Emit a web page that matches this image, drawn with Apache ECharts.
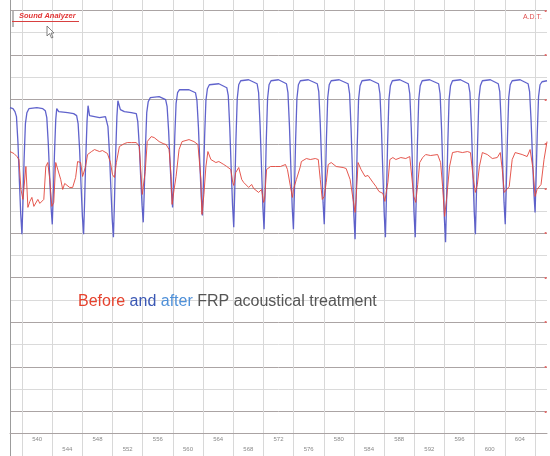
<!DOCTYPE html>
<html>
<head>
<meta charset="utf-8">
<script src="https://cdn.jsdelivr.net/npm/echarts@6/dist/echarts.min.js"></script>
<style>
html,body{margin:0;padding:0;background:#fff;}
#chart{width:550px;height:456px;}
</style>
</head>
<body>
<div id="chart"></div>
<script>
// x: sample index, y: level (arbitrary analyzer units)
const blueTrace = [
[0,327],[3,326],[5,323],[6.5,318],[8,292],[9.5,252],[10.8,220],[12,200],
[13,231],[14.2,276],[15.5,311],[17,322],[19,326],[27,327],[33,326],
[35.5,324],[37,317],[38.5,291],[40,256],[41.3,227],[42.5,210],
[43.5,239],[44.7,280],[46,315],[47,326],[49,323],[51,322],[58,322],[64,321],
[67,319],[68.5,311],[70,285],[71.5,248],[72.8,218],[74,200],
[75,232],[76.2,277],[77.5,314],[78.5,329],[80,319],[82,317],[90,317],[96,318],
[97,316],[98.5,308],[100,282],[101.5,245],[102.8,215],[104,197],
[105,231],[106.2,279],[107.5,318],[108.5,334],[111,325],[115,323],[122,322],[127,321],
[128.5,313],[130,289],[131.5,256],[132.8,229],[134,212],
[135,243],[136.2,287],[137.5,322],[139,333],[141,337],[150,338],
[156.5,335],[158,328],[159.5,304],[161,271],[162.3,244],[163.5,227],
[164.5,257],[165.7,298],[167,331],[168.5,342],[170.5,345],[180,345],
[186.5,342],[188,334],[189.5,307],[191,269],[192.3,238],[193.5,219],
[194.5,252],[195.7,298],[197,334],[198.5,346],[200.5,350],[210,351],
[218,347],[219.5,339],[221,307],[222.5,264],[223.8,229],[225,207],
[226,244],[227.2,295],[228.5,336],[230,350],[232,354],[240,355],
[248.5,351],[250,342],[251.5,309],[253,265],[254.3,227],[255.5,205],
[256.5,242],[257.7,294],[259,336],[260.5,350],[262.5,354],[270,355],
[278,351],[279.5,342],[281,309],[282.5,265],[283.8,227],[285,205],
[286,242],[287.2,294],[288.5,336],[290,350],[292,354],[300,355],
[309,351],[310.5,343],[312,311],[313.5,268],[314.8,232],[316,210],
[317,246],[318.2,296],[319.5,337],[321,350],[323,354],[331,355],
[340,351],[341.5,341],[343,306],[344.5,259],[345.8,219],[347,195],
[348,235],[349.2,290],[350.5,335],[352,349],[354,354],[362,355],
[370.5,351],[372,341],[373.5,307],[375,260],[376.3,221],[377.5,197],
[378.5,236],[379.7,291],[381,335],[382.5,349],[384.5,354],[392,355],
[400.5,351],[402,341],[403.5,307],[405,260],[406.3,221],[407.5,197],
[408.5,236],[409.7,291],[411,335],[412.5,349],[414.5,354],[422,355],
[431,351],[432.5,341],[434,305],[435.5,257],[436.8,216],[438,192],
[439,233],[440.2,289],[441.5,335],[443,349],[445,354],[453,355],
[461,351],[462.5,342],[464,308],[465.5,262],[466.8,223],[468,200],
[469,239],[470.2,292],[471.5,336],[473,349],[475,354],[483,355],
[491,351],[492.5,343],[494,311],[495.5,268],[496.8,232],[498,210],
[499,246],[500.2,296],[501.5,337],[503,350],[505,354],[513,355],
[521,351],[522.5,343],[524,314],[525.5,275],[526.8,242],[528,222],
[529,255],[530.2,301],[531.5,338],[533,350],[535,353],[540,354]
];

const redTrace = [
[0,283],[4,281],[7,278],[9,275],[11,245],[13,235],[16,268],[18,227],[20,233],[22,237],
[24,228],[25,230],[28,235],[30,231],[32,229],[34,235],[36,268],[38,272],[40,255],[42,228],
[44,232],[46,272],[48,270],[51,255],[53,245],[55,251],[57,250],[60,247],[63,247],[66,257],
[68,273],[71,272],[73,258],[76,268],[78,280],[82,283],[85,285],[87,284],[90,283],[93,284],
[98,281],[101,272],[103,260],[105,257],[107,272],[110,288],[115,291],[118,292],[122,292],
[127,292],[130,288],[133,240],[134,238],[136,263],[138,293],[142,298],[145,297],[150,293],
[154,291],[157,290],[160,285],[162,258],[163,230],[165,245],[167,258],[170,285],[173,293],
[180,295],[185,293],[189,290],[192,255],[193,220],[195,240],[197,268],[199,283],[202,275],
[204,275],[207,272],[210,273],[212,272],[215,270],[218,268],[222,265],[224,252],[225,249],
[227,262],[230,267],[233,255],[235,252],[237,250],[240,247],[243,250],[245,246],[247,245],
[250,242],[253,245],[255,232],[256,235],[258,265],[262,268],[267,268],[272,268],[277,270],
[279,265],[282,248],[284,237],[285,245],[288,255],[292,268],[293,273],[298,276],[302,275],
[307,276],[310,275],[312,255],[314,235],[316,238],[318,252],[320,270],[323,272],[328,268],
[335,267],[338,266],[342,255],[345,235],[347,222],[348,235],[350,272],[353,265],[357,258],
[360,259],[362,258],[365,252],[368,248],[371,243],[373,242],[375,241],[377,233],[378,240],
[380,252],[382,275],[385,277],[388,275],[393,277],[398,276],[402,278],[403,268],[406,238],
[408,232],[410,250],[412,272],[415,277],[418,280],[423,279],[430,280],[433,272],[435,248],
[437,218],[439,235],[442,268],[445,282],[450,283],[455,282],[460,283],[463,282],[466,255],
[468,242],[470,250],[472,268],[475,282],[480,280],[485,276],[490,277],[493,282],[495,265],
[497,242],[499,243],[502,248],[505,275],[508,282],[515,280],[520,278],[523,285],[526,265],
[528,238],[530,245],[534,250],[537,275],[540,293]
];

const xTickLabels = ['540','544','548','552','556','560','564','568','572','576','580','584','588','592','596','600','604','608'];

const captionParts = ['Before', 'and', 'after', 'FRP acoustical treatment'];

const chart = echarts.init(document.getElementById('chart'), null, {renderer: 'canvas'});

const T = 'rgba(0,0,0,0)';
const vColors = [T, T, T, T, '#d8d8d8', T, T, T, T, T];

const option = {
  animation: false,
  backgroundColor: '#ffffff',
  grid: {left: 10, right: 0, top: 0, bottom: -1.35},
  xAxis: [
    {type: 'value', min: 0, max: 540, show: false},
    {
      type: 'value', min: -0.4, max: 17.4, interval: 0.1, position: 'bottom', offset: -22.35,
      axisLine: {show: true, onZero: false, lineStyle: {color: '#aaa3a3', width: 1}},
      axisTick: {show: false},
      axisLabel: {
        show: true, margin: 1, fontSize: 6, lineHeight: 10, color: '#8a8a8a',
        fontFamily: 'Liberation Sans', showMinLabel: false, showMaxLabel: false,
        formatter: function (value) {
          const h = value - 0.5;
          const k = Math.round(h);
          if (Math.abs(h - k) > 0.02 || k < 0 || k >= xTickLabels.length) return '';
          return k % 2 === 0 ? xTickLabels[k] : '\n' + xTickLabels[k];
        }
      },
      splitLine: {show: true, showMinLine: true, showMaxLine: true, lineStyle: {color: vColors, width: 1}}
    }
  ],
  yAxis: [
    {
      type: 'value', min: -22.35, max: 435, interval: 22.35,
      axisLine: {show: true, onZero: false, lineStyle: {color: '#9c9c9c', width: 1}},
      axisTick: {show: false},
      axisLabel: {show: false},
      splitLine: {show: true, showMaxLine: false, lineStyle: {color: ['#aba4a4', '#dadada'], width: 1}}
    },
    {
      type: 'value', min: -22.35, max: 435, interval: 22.35, position: 'right',
      axisLine: {show: false}, axisTick: {show: false}, splitLine: {show: false},
      axisLabel: {
        show: true, inside: true, margin: 0, fontSize: 8, color: '#e46a6a',
        formatter: function (v, i) { return (i >= 2 && i % 2 === 0 && i <= 20) ? '•' : ''; }
      }
    }
  ],
  series: [
    {
      name: 'after', type: 'line', xAxisIndex: 0, yAxisIndex: 0, data: blueTrace,
      showSymbol: false, symbol: 'none', silent: true,
      lineStyle: {color: '#4f52c6', width: 1.3, opacity: 0.9}
    },
    {
      name: 'before', type: 'line', xAxisIndex: 0, yAxisIndex: 0, data: redTrace,
      showSymbol: false, symbol: 'none', silent: true,
      lineStyle: {color: '#e2463c', width: 1, opacity: 0.9}
    }
  ],
  graphic: [
    {type: 'line', z: 100, shape: {x1: 13, y1: 11, x2: 13, y2: 27}, style: {stroke: '#8a8a8a', lineWidth: 1.2}},
    {type: 'text', z: 100, x: 19, y: 12, style: {text: 'Sound Analyzer', fill: '#e23636', fontSize: 7.5, fontWeight: 'bold', fontStyle: 'italic', fontFamily: 'Liberation Sans'}},
    {type: 'line', z: 100, shape: {x1: 12, y1: 21.5, x2: 79, y2: 21.5}, style: {stroke: '#d84040', lineWidth: 1}},
    {type: 'text', z: 100, x: 523, y: 14, style: {text: 'A.D.T.', fill: '#e05050', fontSize: 7, fontFamily: 'Liberation Sans'}},
    {type: 'polygon', z: 100, shape: {points: [[47,26],[47,36],[49.5,33.5],[51.5,38],[53,37.3],[51,33],[54,33]]}, style: {fill: '#ffffff', stroke: '#666', lineWidth: 0.8}},
    {
      type: 'text', z: 100, x: 78, y: 294,
      style: {
        text: '{r|' + captionParts[0] + '} {b|' + captionParts[1] + '} {lb|' + captionParts[2] + '} {g|' + captionParts[3] + '}',
        fontFamily: 'Liberation Sans', fontSize: 16,
        rich: {
          r: {fill: '#e5432f', fontSize: 16, fontFamily: 'Liberation Sans'},
          b: {fill: '#3b58b4', fontSize: 16, fontFamily: 'Liberation Sans'},
          lb: {fill: '#4f90d8', fontSize: 16, fontFamily: 'Liberation Sans'},
          g: {fill: '#555555', fontSize: 16, fontFamily: 'Liberation Sans'}
        }
      }
    }
  ]
};
chart.setOption(option);
</script>
</body>
</html>
